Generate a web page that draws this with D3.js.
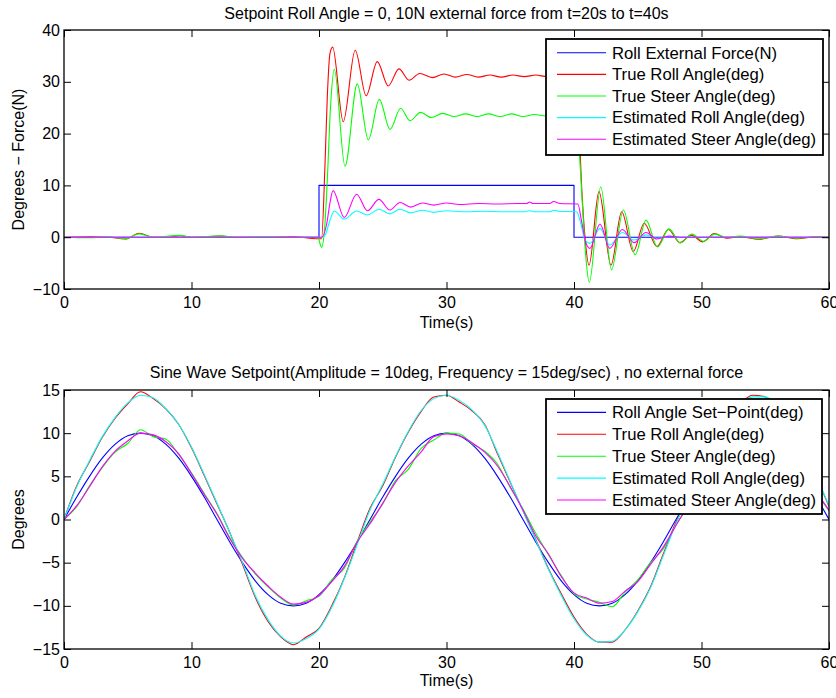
<!DOCTYPE html>
<html>
<head>
<meta charset="utf-8">
<script src="https://cdn.jsdelivr.net/npm/d3@7"></script>
<style>
  body { margin: 0; background: #fff; }
  svg { display: block; }
</style>
</head>
<body>
<svg id="chart" width="836" height="698"></svg>
<script>
// ---------- Shared axis ticks ----------
const timeTicks = [0, 10, 20, 30, 40, 50, 60];
const forceTicks = [-10, 0, 10, 20, 30, 40];
const sineTicks = [-15, -10, -5, 0, 5, 10, 15];

// ---------- Panel 1: step disturbance (time in s, values in deg / N) ----------
const forceTime  = [0, 20, 20, 40, 40, 60];
const forceValue = [0, 0, 10, 10, 0, 0];

const trueRollTime  = [0, 2, 3.5, 4.8, 5.9, 7, 8.2, 9.1, 10, 12.3, 13.5, 16, 18, 19.9, 20.2, 20.47, 20.65, 20.86, 21.07, 21.9,
  22.84, 23.7, 24.57, 25.43, 26.27, 27.06, 27.9, 28.9, 29.8, 30.7, 31.6, 32.5, 33.4, 34.3, 35.2, 36.1, 37, 37.9, 38.8, 39.7,
  40.1, 40.35, 40.6, 40.86, 41.18, 41.96, 42.9, 43.74, 44.65, 45.5, 46.5, 47.4, 48.3, 49.2, 50.1, 51.0, 52.0, 53.0, 54.5, 56,
  57.5, 59, 60];
const trueRollValue = [0, 0.1, 0, -0.35, 0.75, 0, 0, 0.3, 0, 0.2, 0, 0, 0.1, -0.3, -0.3, 14, 27, 35.5, 36.7, 22.3,
  36.1, 27.3, 33.9, 29.2, 32.5, 30.3, 31.6, 30.8, 31.5, 30.9, 31.4, 30.9, 31.3, 30.9, 31.3, 31.0, 31.3, 31.0, 31.3, 31.0,
  31.0, 24, 9.7, 0.1, -5.4, 8.8, -5.4, 4.9, -2.8, 2.7, -1.8, 1.5, -1.05, 0.4, -0.9, 0.7, -0.2, 0.1, -0.4, 0.2,
  -0.3, 0.1, 0];

const trueSteerTime  = [0, 2, 3.5, 4.8, 5.9, 7, 9.1, 10, 12.3, 13.5, 16, 18, 19.9, 20.2, 20.45, 20.65, 20.9, 21.2, 22.04, 23.0,
  23.87, 24.73, 25.57, 26.4, 27.14, 27.97, 28.8, 29.7, 30.6, 31.5, 32.4, 33.3, 34.2, 35.1, 36.0, 36.9, 37.8, 38.7, 39.6, 40.1,
  40.4, 40.62, 40.9, 41.2, 42.1, 42.94, 43.87, 44.8, 45.65, 46.55, 47.45, 48.35, 49.25, 50.15, 51.05, 52, 53, 54.5, 56, 57.5,
  59, 60];
const trueSteerValue = [0, -0.1, 0.1, -0.3, 0.65, 0, 0.35, 0, 0.25, 0, 0.1, 0, 0, -1.95, 2, 11, 25, 32.4, 13.7, 29.6,
  18.8, 26.6, 20.8, 24.9, 22.5, 24.1, 23.1, 23.9, 23.3, 23.8, 23.3, 23.8, 23.3, 23.8, 23.3, 23.7, 23.4, 23.7, 23.5, 23.5,
  17, 8, -3, -8.7, 9.75, -6.3, 5.25, -3.4, 3.3, -1.9, 1.6, -1.1, 0.6, -0.8, 0.6, 0, 0.2, -0.3, 0.2, -0.2,
  0.1, 0];

const estRollTime  = [0, 20.2, 20.5, 20.8, 21.2, 21.98, 22.95, 23.8, 24.7, 25.56, 26.35, 27.2, 28.1, 29, 30, 31.5, 33, 34.5, 36, 36.5,
  37, 38.1, 38.4, 38.8, 40.2, 40.55, 40.85, 41.25, 42.04, 42.8, 43.8, 44.7, 45.65, 46.5, 47.5, 48.5, 60];
const estRollValue = [0, 0, 0.5, 2.8, 5.06, 3.5, 5.06, 4.3, 5.4, 4.5, 5.4, 4.7, 5.2, 4.8, 5.1, 4.9, 5.0, 4.9, 4.9, 5.1,
  4.9, 4.9, 5.2, 5.0, 4.9, 2.5, -0.5, -1.2, 1.7, -1.5, 0.9, -0.55, 0.45, -0.2, 0.1, 0, 0];

const estSteerTime  = [0, 20.2, 20.6, 20.85, 21.1, 21.98, 22.95, 23.8, 24.7, 25.56, 26.35, 27.2, 28.1, 29, 30, 31, 32.5, 34, 35.5, 36.3,
  36.5, 36.8, 38.1, 38.4, 38.9, 40.3, 40.6, 40.9, 41.25, 42.04, 42.8, 43.8, 44.7, 45.65, 46.5, 47.5, 48.5, 60];
const estSteerValue = [0, 0, 2.5, 6.5, 9.0, 3.8, 8.3, 5.1, 7.3, 5.25, 6.7, 5.8, 6.6, 6.2, 6.6, 6.3, 6.5, 6.4, 6.5, 6.5,
  6.8, 6.5, 6.5, 6.9, 6.5, 6.4, 3, -0.8, -2.15, 2.55, -2.15, 1.5, -1.05, 0.9, -0.35, 0.2, 0, 0];

// ---------- Panel 2: sine set-point tracking, sampled every second ----------
const sineTime = [0, 1, 2, 3, 4, 5, 6, 7, 8, 9, 10, 11, 12, 13, 14, 15, 16, 17, 18, 19, 20, 21, 22, 23, 24, 25, 26, 27, 28, 29,
  30, 31, 32, 33, 34, 35, 36, 37, 38, 39, 40, 41, 42, 43, 44, 45, 46, 47, 48, 49, 50, 51, 52, 53, 54, 55, 56, 57, 58, 59, 60];
const setPointValue = [0, 2.6, 5.0, 7.1, 8.7, 9.7, 10, 9.7, 8.7, 7.1, 5.0, 2.6, 0, -2.6, -5.0, -7.1, -8.7, -9.7, -10, -9.7,
  -8.7, -7.1, -5.0, -2.6, 0, 2.6, 5.0, 7.1, 8.7, 9.7, 10, 9.7, 8.7, 7.1, 5.0, 2.6, 0, -2.6, -5.0, -7.1,
  -8.7, -9.7, -10, -9.7, -8.7, -7.1, -5.0, -2.6, 0, 2.6, 5.0, 7.1, 8.7, 9.7, 10, 9.7, 8.7, 7.1, 5.0, 2.6, 0];
const sineTrueRoll = [0, 3.9, 6.7, 9.5, 11.7, 13.4, 14.8, 14.0, 12.8, 11.0, 8.3, 5.1, 1.8, -1.5, -5.2, -9.0, -11.8, -13.6, -14.5, -13.6,
  -12.6, -10.0, -6.7, -2.6, 1.3, 3.9, 7.2, 10.1, 12.5, 14.2, 14.4, 13.6, 12.6, 11.0, 7.6, 4.3, 1.0, -2.3, -5.7, -8.6,
  -11.3, -13.3, -14.2, -14.2, -12.8, -10.6, -7.8, -4.0, -0.3, 2.6, 5.9, 8.8, 11.2, 13.3, 14.4, 14.2, 13.0, 11.0, 8.6, 5.0, 1.5];
const sineTrueSteer = [0, 1.5, 3.9, 6.0, 7.8, 8.8, 10.4, 9.6, 9.3, 7.5, 5.4, 3.0, 0.7, -2.1, -4.4, -6.3, -7.8, -9.1, -9.9, -9.4,
  -8.9, -7.0, -5.6, -2.5, -0.3, 1.8, 4.5, 5.8, 8.2, 9.2, 10.0, 9.9, 8.8, 7.9, 6.4, 3.7, 1.2, -1.6, -4.1, -6.5,
  -8.6, -9.2, -9.6, -10.1, -8.4, -7.0, -5.0, -3.4, -0.6, 1.6, 4.3, 6.0, 8.0, 9.1, 10.2, 9.6, 9.1, 7.5, 5.5, 3.1, 1.0];
const sineEstRoll = [0, 3.8, 6.8, 9.6, 11.8, 13.5, 14.4, 14.1, 12.8, 11.0, 8.4, 5.2, 1.9, -1.5, -5.0, -8.8, -11.6, -13.5, -14.3, -13.8,
  -12.7, -10.2, -6.8, -2.9, 1.1, 4.1, 7.3, 10.2, 12.6, 14.0, 14.4, 13.8, 12.7, 10.9, 7.8, 4.4, 1.0, -2.4, -5.8, -8.8,
  -11.5, -13.4, -14.2, -14.1, -12.8, -10.7, -7.9, -4.2, -0.5, 2.8, 6.0, 8.9, 11.3, 13.2, 14.2, 14.2, 13.1, 11.1, 8.6, 5.1, 1.6];
const sineEstSteer = [0, 1.6, 3.8, 6.1, 7.9, 9.1, 10.0, 9.8, 9.0, 7.6, 5.3, 2.9, 0.6, -2.2, -4.5, -6.2, -7.7, -9.0, -9.8, -9.6,
  -8.8, -7.2, -5.4, -2.6, -0.5, 1.9, 4.3, 6.2, 7.8, 9.6, 9.9, 9.7, 8.9, 7.8, 6.2, 3.8, 1.1, -1.9, -4.0, -6.6,
  -8.5, -9.1, -9.7, -9.5, -8.3, -7.2, -5.2, -3.2, -0.7, 1.8, 4.2, 6.2, 7.9, 9.3, 10.0, 9.8, 9.0, 7.6, 5.4, 3.2, 1.1];

// ---------- Drawing ----------
const FONT = '"Liberation Sans", Arial, Helvetica, sans-serif';
const svg = d3.select("#chart");
svg.append("rect").attr("width", 836).attr("height", 698).attr("fill", "#fff");

const x = d3.scaleLinear().domain([0, 60]).range([64, 829]);

function zip(ts, vs) { return ts.map((t, i) => [t, vs[i]]); }

function drawPanel(p, idx) {
  const y = d3.scaleLinear().domain(p.yDomain).range([p.bottom, p.top]);
  const g = svg.append("g");

  const clipId = "clip" + idx;
  g.append("clipPath").attr("id", clipId)
    .append("rect").attr("x", x(0)).attr("y", p.top)
    .attr("width", x(60) - x(0)).attr("height", p.bottom - p.top);

  const plot = g.append("g").attr("clip-path", `url(#${clipId})`);
  p.series.forEach(s => {
    const line = d3.line()
      .x(d => x(d[0])).y(d => y(d[1]))
      .curve(s.step ? d3.curveLinear : d3.curveMonotoneX);
    plot.append("path")
      .attr("d", line(zip(s.t, s.v)))
      .attr("fill", "none")
      .attr("stroke", s.color)
      .attr("stroke-width", 1.1)
      .attr("stroke-linejoin", "round");
  });

  // Axes with inward ticks on all four sides
  const styleAxis = sel => {
    sel.attr("font-family", FONT).attr("font-size", 16);
    sel.select(".domain").remove();
    sel.selectAll(".tick line").attr("stroke", "#000").attr("stroke-width", 1);
    sel.selectAll(".tick text").attr("fill", "#000");
  };
  g.append("g").attr("transform", `translate(0,${p.bottom})`)
    .call(d3.axisBottom(x).tickValues(timeTicks).tickSizeInner(-7).tickSizeOuter(0).tickPadding(8))
    .call(styleAxis);
  g.append("g").attr("transform", `translate(0,${p.top})`)
    .call(d3.axisTop(x).tickValues(timeTicks).tickSizeInner(-7).tickSizeOuter(0).tickFormat(() => ""))
    .call(styleAxis);
  g.append("g").attr("transform", `translate(${x(0)},0)`)
    .call(d3.axisLeft(y).tickValues(p.yTicks).tickSizeInner(-7).tickSizeOuter(0).tickPadding(4))
    .call(styleAxis);
  g.append("g").attr("transform", `translate(${x(60)},0)`)
    .call(d3.axisRight(y).tickValues(p.yTicks).tickSizeInner(-7).tickSizeOuter(0).tickFormat(() => ""))
    .call(styleAxis);

  g.append("rect")
    .attr("x", x(0)).attr("y", p.top)
    .attr("width", x(60) - x(0)).attr("height", p.bottom - p.top)
    .attr("fill", "none").attr("stroke", "#000").attr("stroke-width", 1.3);

  // Titles and axis labels
  g.append("text").attr("x", (x(0) + x(60)) / 2).attr("y", p.titleY)
    .attr("text-anchor", "middle").attr("font-family", FONT).attr("font-size", 16)
    .text(p.title);
  g.append("text").attr("x", (x(0) + x(60)) / 2).attr("y", p.xLabelY)
    .attr("text-anchor", "middle").attr("font-family", FONT).attr("font-size", 16)
    .text("Time(s)");
  g.append("text")
    .attr("transform", `translate(18,${(p.top + p.bottom) / 2}) rotate(-90)`)
    .attr("dy", "0.35em")
    .attr("text-anchor", "middle").attr("font-family", FONT).attr("font-size", 16)
    .text(p.yLabel);

  // Legend
  const L = p.legend;
  const lg = g.append("g");
  lg.append("rect").attr("x", L.x).attr("y", L.y).attr("width", L.w).attr("height", L.h)
    .attr("fill", "#fff").attr("stroke", "#000").attr("stroke-width", 1.8);
  p.series.forEach((s, i) => {
    const yy = L.y + L.first + i * L.step;
    lg.append("line").attr("x1", L.x + 11).attr("x2", L.x + 60)
      .attr("y1", yy).attr("y2", yy)
      .attr("stroke", s.color).attr("stroke-width", 1.1);
    lg.append("text").attr("x", L.x + 66).attr("y", yy).attr("dy", "0.35em")
      .attr("font-family", FONT).attr("font-size", 16.7).text(s.name);
  });
}

drawPanel({
  top: 30, bottom: 289, yDomain: [-10, 40], yTicks: forceTicks,
  title: "Setpoint Roll Angle = 0, 10N external force from t=20s to t=40s",
  titleY: 19, xLabelY: 328, yLabel: "Degrees \u2212 Force(N)",
  legend: { x: 546, y: 39, w: 277, h: 116, first: 13.7, step: 21.65 },
  series: [
    { name: "Roll External Force(N)", color: "#0000ff", t: forceTime, v: forceValue, step: true },
    { name: "True Roll Angle(deg)", color: "#ff0000", t: trueRollTime, v: trueRollValue },
    { name: "True Steer Angle(deg)", color: "#00ff00", t: trueSteerTime, v: trueSteerValue },
    { name: "Estimated Roll Angle(deg)", color: "#00ffff", t: estRollTime, v: estRollValue },
    { name: "Estimated Steer Angle(deg)", color: "#ff00ff", t: estSteerTime, v: estSteerValue }
  ]
}, 0);

drawPanel({
  top: 390, bottom: 649, yDomain: [-15, 15], yTicks: sineTicks,
  title: "Sine Wave Setpoint(Amplitude = 10deg, Frequency = 15deg/sec) , no external force",
  titleY: 378, xLabelY: 686, yLabel: "Degrees",
  legend: { x: 546, y: 399, w: 276, h: 115, first: 13.4, step: 21.9 },
  series: [
    { name: "Roll Angle Set\u2212Point(deg)", color: "#0000ff", t: sineTime, v: setPointValue },
    { name: "True Roll Angle(deg)", color: "#ff0000", t: sineTime, v: sineTrueRoll },
    { name: "True Steer Angle(deg)", color: "#00ff00", t: sineTime, v: sineTrueSteer },
    { name: "Estimated Roll Angle(deg)", color: "#00ffff", t: sineTime, v: sineEstRoll },
    { name: "Estimated Steer Angle(deg)", color: "#ff00ff", t: sineTime, v: sineEstSteer }
  ]
}, 1);
</script>
</body>
</html>
